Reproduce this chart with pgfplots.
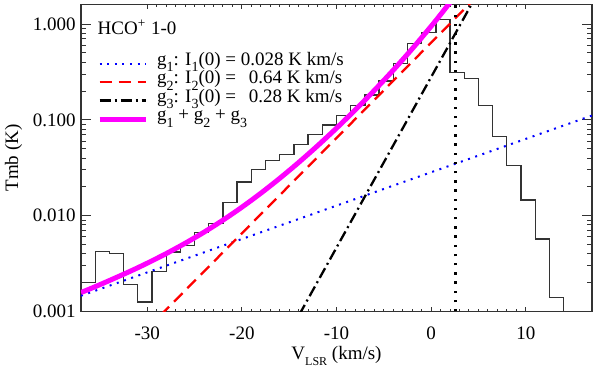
\documentclass[border=0pt]{standalone}
\usepackage{fontspec}
\setmainfont{Liberation Serif}
\usepackage{pgfplots}
\pgfplotsset{compat=1.18}

\definecolor{idlmag}{RGB}{255,0,255}
\definecolor{idlblue}{RGB}{0,0,255}
\definecolor{idlred}{RGB}{255,0,0}

\newcommand\fs{\fontsize{9.5}{11}\selectfont}
\newcommand\sub[1]{\raisebox{-3.2pt}{\fontsize{7}{7}\selectfont #1}}

% spectrum, bins 1.5 km/s wide (left edge, Tmb)
\pgfplotstableread{
v       T
-37.0   0.00202
-35.5   0.00425
-34.0   0.00402
-32.5   0.00191
-31.0   0.00126
-29.5   0.00263
-28.0   0.00419
-26.5   0.00487
-25.0   0.00670
-23.5   0.00826
-22.0   0.01377
-20.5   0.02245
-19.0   0.03014
-17.5   0.0374
-16.0   0.0432
-14.5   0.0549
-13.0   0.0698
-11.5   0.0887
-10.0   0.111
-8.5    0.141
-7.0    0.182
-5.5    0.255
-4.0    0.389
-2.5    0.629
-1.0    0.812
0.5     1.12
2.0     0.311
3.5     0.272
5.0     0.142
6.5     0.067
8.0     0.0332
9.5     0.01457
11.0    0.00572
12.5    0.00139
14.0    0.0005
17.0    0.0005
}\spectrum

% g1 + g2 + g3
\pgfplotstableread{
v     T
-37   0.001577
-35   0.001906
-32   0.002576
-30   0.003194
-28   0.004021
-26   0.005151
-24   0.006727
-22   0.008981
-20   0.012264
-18   0.01715
-16   0.024541
-14   0.035915
-12   0.053695
-10   0.081954
-8    0.127666
-6    0.203134
-4    0.330627
-2    0.551945
0     0.948
1     1.2567
2     1.6804
}\gsum

\begin{document}
\fs
\begin{tikzpicture}
\useasboundingbox (-40.5pt,-28.25pt) rectangle (259.5pt,155.75pt);
\begin{axis}[
  at={(0,0)}, anchor=south west,
  scale only axis, width=255.5pt, height=153.5pt,
  xmin=-37, xmax=17, ymode=log, ymin=0.001, ymax=1.6,
  xtick={-30,-20,-10,0,10}, xticklabels={-30,-20,-10,0,10},
  minor x tick num=9,
  ytick={0.001,0.01,0.1,1}, yticklabels={0.001,0.010,0.100,1.000},
  axis line style={black!80, line width=0.6pt},
  every tick/.style={black!80, line width=0.5pt},
  major tick length=5pt, minor tick length=2.5pt,
  xtick style={/pgfplots/major tick length=2.2pt, /pgfplots/minor tick length=1.1pt},
  tick label style={font=\fs, inner sep=0pt},
  xticklabel shift=7.5pt, yticklabel shift=2.5pt,
  xlabel={V\raisebox{-3.2pt}{\fontsize{6}{6}\selectfont LSR} (km/s)},
  ylabel={Tmb (K)},
  every axis x label/.style={at={(axis description cs:0.5,-0.155)}, anchor=base, font=\fs},
  every axis y label/.style={at={(axis description cs:-0.1321,0.5)}, rotate=90, anchor=center, font=\fs},
  legend style={at={(axis description cs:0.0307,0.8388)}, anchor=north west,
    draw=none, fill=none, inner sep=0pt, font=\fs, row sep=0pt, column sep=0pt,
    nodes={inner sep=0.5pt, text height=5pt, text depth=3.25pt}},
  legend cell align=left,
  legend image code/.code={\draw[#1] (0pt,0pt) -- (23pt,0pt); \path (27pt,0pt);},
]
\addplot[const plot, black!80, line width=0.65pt, forget plot] table[x=v, y=T] {\spectrum};

\addplot[idlblue, line width=1pt, dash pattern=on 1pt off 2.8pt] coordinates {(-37,0.00146) (17,0.111)};
\addlegendentry{g\sub{1}: I\sub{1}(0) = 0.028 K km/s}
\addplot[idlred, line width=1.15pt, dash pattern=on 6pt off 3.5pt] coordinates {(-30,0.000662) (5,2.011)};
\addlegendentry{g\sub{2}: I\sub{2}(0) =\hspace{4pt} 0.64 K km/s}
\addplot[black, line width=1.15pt, dash pattern=on 5.5pt off 2pt on 1pt off 2pt] coordinates {(-15,0.000598) (5,2.17)};
\addlegendentry{g\sub{3}: I\sub{3}(0) =\hspace{4pt} 0.28 K km/s}
\addplot[idlmag, line width=2.5pt, smooth] table[x=v, y=T] {\gsum};
\addlegendentry{g\sub{1} + g\sub{2} + g\sub{3}}

\addplot[black, line width=1.3pt, dash pattern=on 1.2pt off 3.4pt, forget plot] coordinates {(2.6,0.001) (2.6,1.6)};

\node[anchor=base west, inner sep=0pt, font=\fs] at (axis description cs:0.0319,0.9007) {HCO\textsuperscript{+} 1-0};
\end{axis}
\end{tikzpicture}
\end{document}
